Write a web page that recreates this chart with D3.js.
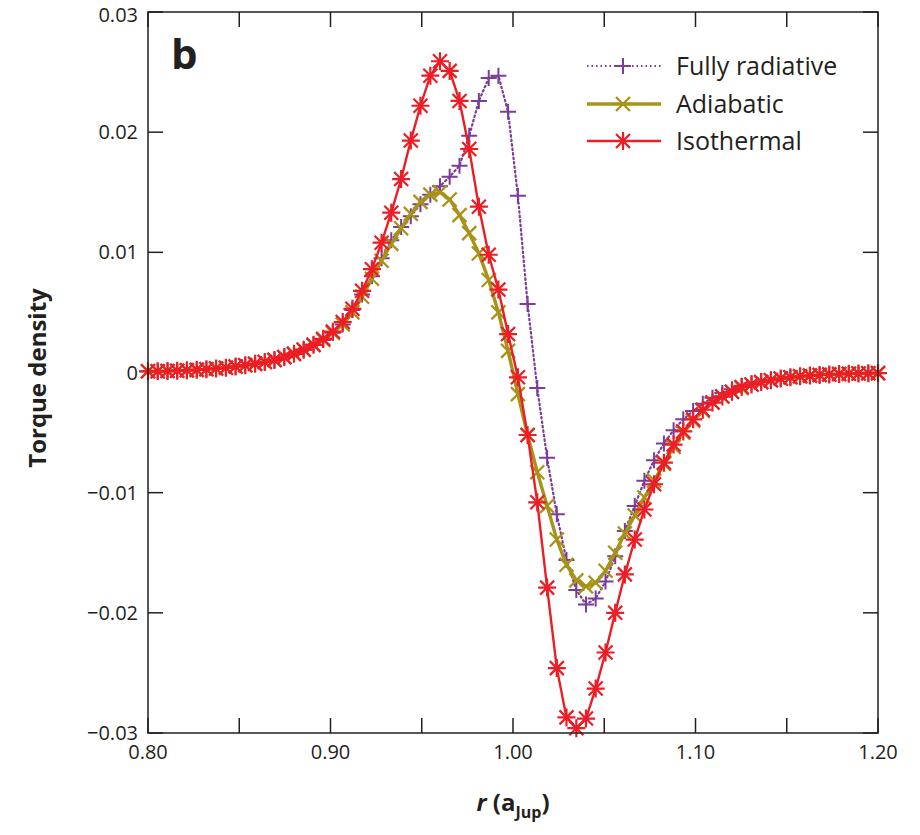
<!DOCTYPE html>
<html><head><meta charset="utf-8">
<script src="https://cdn.jsdelivr.net/npm/d3@7/dist/d3.min.js"></script>
<style>
body{margin:0;background:#fff;}
text{font-family:"Open Sans",sans-serif;fill:#231f20;}
</style></head>
<body>
<svg id="c" width="920" height="835"></svg>
<script>
const rGrid = [0.8000,0.8053,0.8107,0.8160,0.8213,0.8267,0.8320,0.8373,0.8427,0.8480,0.8533,0.8587,0.8640,0.8693,0.8747,0.8800,0.8853,0.8907,0.8960,0.9013,0.9067,0.9120,0.9173,0.9227,0.9280,0.9333,0.9387,0.9440,0.9493,0.9547,0.9600,0.9653,0.9707,0.9760,0.9813,0.9867,0.9920,0.9973,1.0027,1.0080,1.0133,1.0187,1.0240,1.0293,1.0347,1.0400,1.0453,1.0507,1.0560,1.0613,1.0667,1.0720,1.0773,1.0827,1.0880,1.0933,1.0987,1.1040,1.1093,1.1147,1.1200,1.1253,1.1307,1.1360,1.1413,1.1467,1.1520,1.1573,1.1627,1.1680,1.1733,1.1787,1.1840,1.1893,1.1947,1.2000];

const isothermal = [0.0001,0.0001,0.00012,0.00015,0.00018,0.00022,0.00027,0.00033,0.0004,0.0005,0.0006,0.00072,0.00088,0.00105,0.00128,0.00155,0.0019,0.0023,0.0028,0.0034,0.0042,0.0053,0.0068,0.0086,0.0108,0.0133,0.0161,0.0193,0.0222,0.0247,0.0259,0.0251,0.0226,0.0186,0.0138,0.0098,0.0069,0.0032,-0.0004,-0.0052,-0.0108,-0.0179,-0.0246,-0.0287,-0.0296,-0.0288,-0.0263,-0.0233,-0.0200,-0.0168,-0.0139,-0.0114,-0.0093,-0.0075,-0.0060,-0.0049,-0.0039,-0.0031,-0.0025,-0.0020,-0.0016,-0.0012,-0.0010,-0.0008,-0.00065,-0.0005,-0.0004,-0.00032,-0.00026,-0.0002,-0.00016,-0.00013,-0.0001,-0.00008,-0.00006,-0.00005];

const adiabatic = [0.0001,0.0001,0.00012,0.00015,0.00018,0.00022,0.00027,0.00033,0.0004,0.0005,0.0006,0.00072,0.00088,0.00105,0.00128,0.00155,0.0019,0.0023,0.0027,0.0033,0.0040,0.0050,0.0063,0.0078,0.0093,0.0107,0.0120,0.0132,0.0142,0.0148,0.0150,0.0144,0.0131,0.0116,0.0099,0.0077,0.0050,0.0018,-0.0018,-0.0052,-0.0083,-0.0111,-0.0139,-0.0160,-0.0173,-0.0178,-0.0175,-0.0165,-0.0150,-0.0134,-0.0119,-0.0104,-0.0090,-0.0076,-0.0062,-0.0050,-0.0040,-0.0032,-0.0025,-0.0020,-0.0016,-0.0013,-0.0010,-0.0008,-0.00065,-0.0005,-0.0004,-0.00032,-0.00026,-0.0002,-0.00016,-0.00013,-0.0001,-0.00008,-0.00006,-0.00005];

const fullyRadiative = [0.0001,0.0001,0.00012,0.00015,0.00018,0.00022,0.00027,0.00033,0.0004,0.0005,0.0006,0.00072,0.00088,0.00105,0.00128,0.00155,0.0019,0.0023,0.0027,0.0033,0.0040,0.0052,0.0065,0.0080,0.0095,0.0110,0.0121,0.0130,0.0140,0.0148,0.0155,0.0163,0.0172,0.0197,0.0226,0.0245,0.0247,0.0217,0.0147,0.0057,-0.0013,-0.0071,-0.0118,-0.0156,-0.0181,-0.0193,-0.0188,-0.0174,-0.0153,-0.0132,-0.0111,-0.0090,-0.0073,-0.0059,-0.0048,-0.0039,-0.0032,-0.0026,-0.0021,-0.0017,-0.0014,-0.0011,-0.0009,-0.00075,-0.0006,-0.0005,-0.0004,-0.00032,-0.00026,-0.0002,-0.00016,-0.00013,-0.0001,-0.00008,-0.00006,-0.00005];

const seriesNames = ["Fully radiative","Adiabatic","Isothermal"];
const xMajorTicks = [0.80,0.90,1.00,1.10,1.20];
const xLabels = ["0.80","0.90","1.00","1.10","1.20"];
const xMinorTicks = [0.85,0.95,1.05,1.15];
const yTicks = [0.03,0.02,0.01,0,-0.01,-0.02,-0.03];
const yLabels = ["0.03","0.02","0.01","0","\u22120.01","\u22120.02","\u22120.03"];

const svg = d3.select("#c");
const L=148,R=878,T=12,B=733;
const x = d3.scaleLinear().domain([0.8,1.2]).range([L,R]);
const y = d3.scaleLinear().domain([-0.03,0.03]).range([B,T]);

const colors = {"Fully radiative":"#7d3b9a","Adiabatic":"#a69318","Isothermal":"#ec1d25"};
const markerPath = {
  "Fully radiative":"M-8,0H8M0,-8V8",
  "Adiabatic":"M-7,-7L7,7M-7,7L7,-7",
  "Isothermal":"M-9,0H9M0,-9V9M-7,-7L7,7M-7,7L7,-7"
};
const markW = {"Fully radiative":2,"Adiabatic":2.3,"Isothermal":2.2};
const lineW = {"Fully radiative":2.2,"Adiabatic":3.4,"Isothermal":2.4};
const dash = {"Fully radiative":"1.5,3","Adiabatic":null,"Isothermal":null};
const dataBy = {"Fully radiative":fullyRadiative,"Adiabatic":adiabatic,"Isothermal":isothermal};

// axes (ticks inside)
const tickLen = 15;
const axes = svg.append("g").attr("stroke","#231f20").attr("stroke-width",1.5);
[...xMajorTicks,...xMinorTicks].forEach(v=>{
  axes.append("line").attr("x1",x(v)).attr("x2",x(v)).attr("y1",B).attr("y2",B-tickLen);
  axes.append("line").attr("x1",x(v)).attr("x2",x(v)).attr("y1",T).attr("y2",T+tickLen);
});
yTicks.forEach(v=>{
  axes.append("line").attr("x1",L).attr("x2",L+tickLen).attr("y1",y(v)).attr("y2",y(v));
  axes.append("line").attr("x1",R).attr("x2",R-tickLen).attr("y1",y(v)).attr("y2",y(v));
});

// series
const line = d3.line().x((d,i)=>x(rGrid[i])).y(d=>y(d));
seriesNames.forEach(name=>{
  const g = svg.append("g");
  g.append("path").attr("d",line(dataBy[name])).attr("fill","none")
    .attr("stroke",colors[name]).attr("stroke-width",lineW[name])
    .attr("stroke-dasharray",dash[name]).attr("stroke-linecap","round");
  g.selectAll("path.m").data(dataBy[name]).join("path").attr("class","m")
    .attr("d",markerPath[name])
    .attr("transform",(d,i)=>`translate(${x(rGrid[i])},${y(d)})`)
    .attr("stroke",colors[name]).attr("stroke-width",markW[name]).attr("fill","none");
});

// frame
svg.append("rect").attr("x",L).attr("y",T).attr("width",R-L).attr("height",B-T)
  .attr("fill","none").attr("stroke","#231f20").attr("stroke-width",1.5);

// tick labels
xMajorTicks.forEach((v,i)=>{
  svg.append("text").attr("x",x(v)).attr("y",759).attr("text-anchor","middle")
    .attr("font-size",20).text(xLabels[i]);
});
yTicks.forEach((v,i)=>{
  svg.append("text").attr("x",138).attr("y",Math.max(y(v)+7,22)).attr("text-anchor","end")
    .attr("font-size",20).text(yLabels[i]);
});

// axis titles
svg.append("text").attr("transform","translate(46,378) rotate(-90)").attr("text-anchor","middle")
  .attr("font-size",24).attr("font-weight","bold").text("Torque density");
const xt = svg.append("text").attr("x",513).attr("y",811).attr("text-anchor","middle")
  .attr("font-size",24).attr("font-weight","bold");
xt.append("tspan").attr("font-style","italic").text("r");
xt.append("tspan").text(" (a");
xt.append("tspan").attr("font-size",16).attr("dy",7).text("Jup");
xt.append("tspan").attr("dy",-7).text(")");

// panel label
svg.append("text").attr("x",171).attr("y",69).attr("font-size",42).attr("font-weight","bold").text("b");

// legend
const legY = [66,104,141];
seriesNames.forEach((name,i)=>{
  const g = svg.append("g").attr("transform",`translate(0,${legY[i]})`);
  g.append("line").attr("x1",587).attr("x2",661).attr("y1",0).attr("y2",0)
    .attr("stroke",colors[name]).attr("stroke-width",lineW[name]).attr("stroke-dasharray",dash[name]);
  g.append("path").attr("d",markerPath[name]).attr("transform","translate(623,0)")
    .attr("stroke",colors[name]).attr("stroke-width",markW[name]).attr("fill","none");
  g.append("text").attr("x",676).attr("y",9).attr("font-size",25).attr("fill","#333").text(name);
});
</script>
</body></html>
